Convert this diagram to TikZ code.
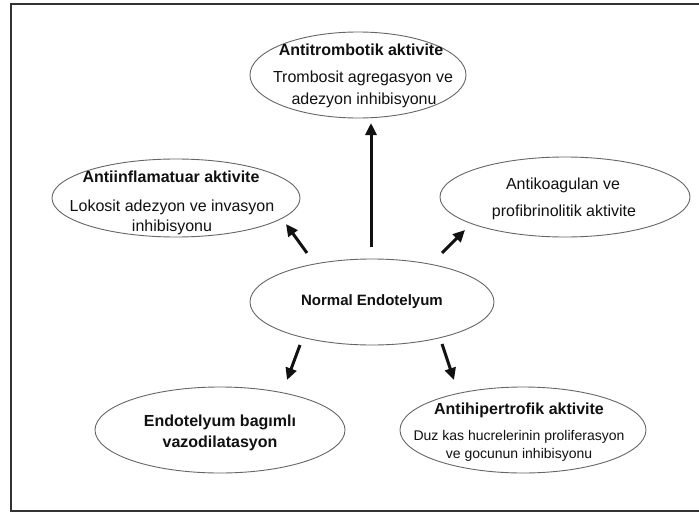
\documentclass[tikz,border=0pt]{standalone}
\usepackage{fontspec}
\setmainfont{Liberation Sans}
\usetikzlibrary{shapes.geometric,arrows.meta}
\definecolor{ink}{HTML}{111111}
\tikzset{
  oval/.style={draw=black!60, line width=0.9pt, ellipse, inner sep=0pt},
  arr/.style={line width=3pt, ink, -{Triangle[length=12pt,width=11pt]}},
  hd/.style={font=\fontsize{16}{18}\selectfont\bfseries, inner sep=0pt, text=ink},
  hdc/.style={font=\fontsize{15}{17}\selectfont\bfseries, inner sep=0pt, text=ink},
  tx/.style={font=\fontsize{16}{18}\selectfont, inner sep=0pt, text=ink},
  sm/.style={font=\fontsize{14}{16}\selectfont, inner sep=0pt, text=ink},
}
\begin{document}
\begin{tikzpicture}[x=1pt,y=-1pt]
\useasboundingbox (0,0) rectangle (699,514);
\fill[white] (0,0) rectangle (699,514);
\draw[line width=2pt, black!80] (720,4) -- (11,4) -- (11,511) -- (720,511);
% ellipses
\node[oval, minimum width=216pt, minimum height=86pt] (top) at (358,75) {};
\node[oval, minimum width=248pt, minimum height=78pt] (left) at (176,198) {};
\node[oval, minimum width=250pt, minimum height=80pt] (right) at (565,197) {};
\node[oval, minimum width=244pt, minimum height=86pt] (center) at (372,302) {};
\node[oval, minimum width=250pt, minimum height=86pt] (bl) at (220,430) {};
\node[oval, minimum width=246pt, minimum height=86pt] (br) at (523,430) {};
% texts
\node[hd] (t1) at (361,50) {Antitrombotik aktivite};
\node[tx] (t2) at (363,78) {Trombosit agregasyon ve};
\node[tx] (t3) at (364,100) {adezyon inhibisyonu};
\node[hd] (l1) at (171,177) {Antiinflamatuar aktivite};
\node[tx] (l2) at (172,207) {Lokosit adezyon ve invasyon};
\node[tx] (l3) at (172,227) {inhibisyonu};
\node[tx] (r1) at (563,185) {Antikoagulan ve};
\node[tx] (r2) at (564,212) {profibrinolitik aktivite};
\node[hdc] (c1) at (372,302) {Normal Endotelyum};
\node[hd] (b1) at (220,422) {Endotelyum bagımlı};
\node[hd] (b2) at (220,443) {vazodilatasyon};
\node[hd] (e1) at (519,410) {Antihipertrofik aktivite};
\node[sm] (e2) at (519,437) {Duz kas hucrelerinin proliferasyon};
\node[sm] (e3) at (519,455) {ve gocunun inhibisyonu};
% arrow ends
\coordinate (a1s) at (371,247); \coordinate (a1e) at (371,123);
\coordinate (a2s) at (307,253); \coordinate (a2e) at (286,224);
\coordinate (a3s) at (442,253); \coordinate (a3e) at (465,230);
\coordinate (a4s) at (300,345); \coordinate (a4e) at (287,380);
\coordinate (a5s) at (442,344); \coordinate (a5e) at (454,380);
\draw[arr] (a1s) -- (a1e);
\draw[arr] (a2s) -- (a2e);
\draw[arr] (a3s) -- (a3e);
\draw[arr] (a4s) -- (a4e);
\draw[arr] (a5s) -- (a5e);
\end{tikzpicture}
\end{document}
